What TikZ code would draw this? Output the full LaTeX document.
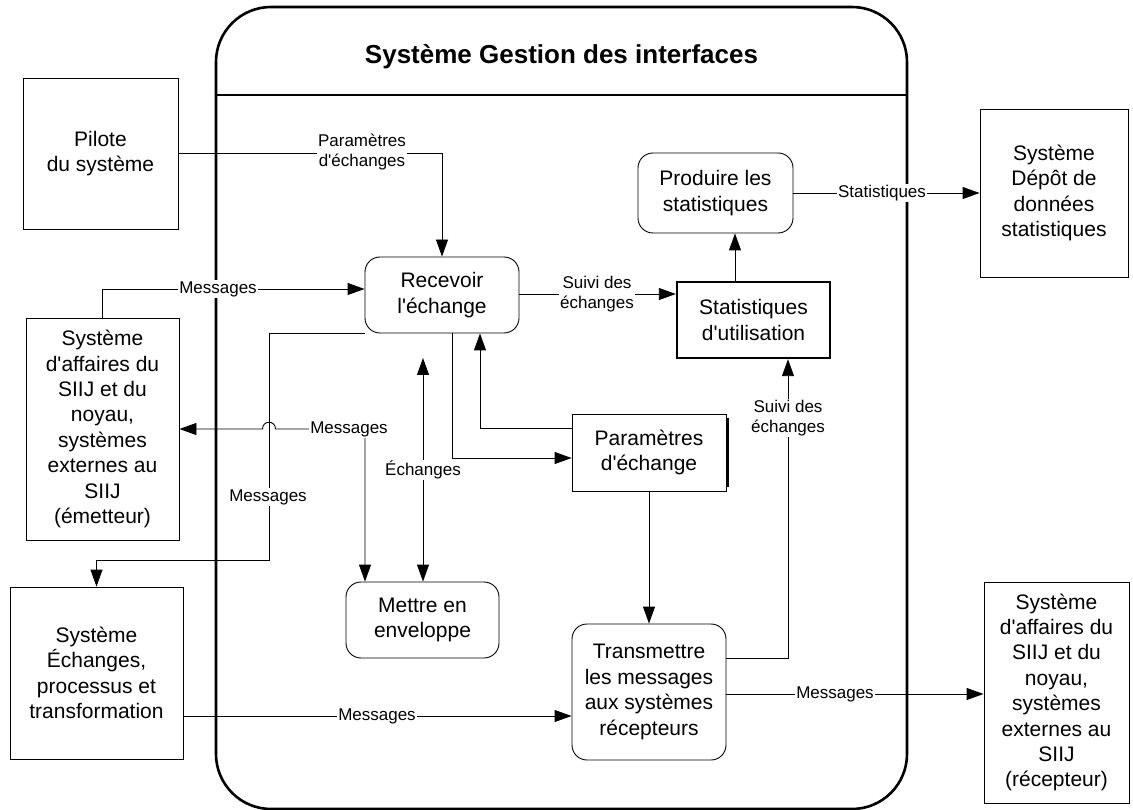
\documentclass[tikz,border=0pt]{standalone}
\usepackage{fontspec}
\setmainfont{Liberation Sans}[Ligatures=TeXOff]
\usetikzlibrary{arrows.meta}
\newcommand\nf{\fontsize{21}{25.4}\selectfont}
\newcommand\lf{\fontsize{17}{20.4}\selectfont}
\begin{document}
\begin{tikzpicture}[x=1pt,y=-1pt,
  box/.style={draw,line width=0.9pt,align=center,inner sep=0pt,font=\nf},
  ext/.style={box},
  proc/.style={box,rounded corners=15pt},
  lbl/.style={fill=white,inner sep=1pt,align=center,font=\lf},
  ln/.style={line width=0.9pt},
  arr/.style={ln,-{Triangle[length=17pt,width=12pt]}},
  dbl/.style={ln,{Triangle[length=17pt,width=12pt]}-{Triangle[length=17pt,width=12pt]}}]
\useasboundingbox (0,0) rectangle (1133,810);
% frame
\node[draw,line width=2.6pt,rounded corners=55pt,minimum width=691pt,minimum height=802pt,inner sep=0pt] (frame) at (561.5,408) {};
\node[font=\fontsize{26}{30}\selectfont\bfseries] (title) at (561.5,57) {Système Gestion des interfaces};
\coordinate (sep) at (0,95);
\draw[line width=2pt] (frame.west |- sep) -- (frame.east |- sep);
% external entities
\node[ext,minimum width=155pt,minimum height=151pt] (pilote) at (100.5,153.5) {Pilote\\du système};
\node[ext,minimum width=153pt,minimum height=222pt] (emit) at (102.5,429) {Système\\d'affaires du\\SIIJ et du\\noyau,\\systèmes\\externes au\\SIIJ\\(émetteur)};
\node[ext,minimum width=173pt,minimum height=172pt] (echp) at (96.5,673) {Système\\Échanges,\\processus et\\transformation};
\node[ext,minimum width=148pt,minimum height=168pt] (depot) at (1054,193) {Système\\Dépôt de\\données\\statistiques};
\node[ext,minimum width=145pt,minimum height=221pt] (recep) at (1056.5,692.5) {Système\\d'affaires du\\SIIJ et du\\noyau,\\systèmes\\externes au\\SIIJ\\(récepteur)};
% processes
\node[proc,minimum width=154pt,minimum height=76pt] (recv) at (442,295) {Recevoir\\l'échange};
\node[proc,minimum width=155pt,minimum height=80pt] (prod) at (715.5,193) {Produire les\\statistiques};
\node[proc,minimum width=153pt,minimum height=76pt] (env) at (422.5,620) {Mettre en\\enveloppe};
\node[proc,minimum width=154pt,minimum height=136pt] (trans) at (649,692) {Transmettre\\les messages\\aux systèmes\\récepteurs};
% stores
\node[box,line width=2.4pt,minimum width=153pt,minimum height=76pt] (stat) at (753.5,320) {Statistiques\\d'utilisation};
\node[box,minimum width=154pt,minimum height=77pt] (param) at (649,452.5) {Paramètres\\d'échange};
\draw[line width=2.4pt] ([xshift=1pt,yshift=-4pt]param.north east) -- ([xshift=1pt,yshift=4pt]param.south east);
% connectors
\draw[arr] (pilote.east) -| (recv.north);
\draw[arr] (emit.north) |- ([yshift=6pt]recv.west);
\draw[arr] ([yshift=1pt]recv.east) -- ([yshift=1pt]recv.east -| stat.west);
\draw[arr] ([xshift=-18.5pt]stat.north) -- ([xshift=-18.5pt]stat.north |- prod.south);
\draw[arr] (prod.east) -- (prod.east -| depot.west);
\draw[arr] ([xshift=10pt]recv.south) |- ([yshift=-5.5pt]param.west);
\draw[arr] ([yshift=24.5pt]param.west) -| ([xshift=38pt]recv.south);
\draw[arr] (param.south) -- (trans.north);
\draw[arr] ([yshift=34pt]trans.east) -| ([xshift=34.5pt]stat.south);
\draw[arr] ([yshift=-2pt]trans.east) -- ([yshift=-2pt]trans.east -| recep.west);
\draw[arr] ([yshift=-43pt]echp.east) -- ([yshift=-43pt]echp.east -| trans.west);
\coordinate (bend) at (269,560);
\draw[arr] (recv.south west) -| (bend) -| (echp.north);
\coordinate (mc) at (365,429);
\coordinate (hopR) at (275.5,429);
\coordinate (hopL) at (262.5,429);
\draw[dbl] ([xshift=-57.5pt]env.north) -- (mc) -- (hopR) .. controls (275.5,420) and (262.5,420) .. (hopL) -- (emit.east);
\coordinate (echtop) at (423,358);
\draw[dbl] (echtop) -- (echtop |- env.north);
% labels
\node[lbl] (l1) at (362,152) {Paramètres\\d'échanges};
\node[lbl] (l2) at (218,289) {Messages};
\node[lbl] (l3) at (597,294) {Suivi des\\échanges};
\node[lbl] (l4) at (882,193) {Statistiques};
\node[lbl] (l5) at (349,429) {Messages};
\node[lbl] (l6) at (423,470) {Échanges};
\node[lbl] (l7) at (268,497) {Messages};
\node[lbl] (l8) at (788,418) {Suivi des\\échanges};
\node[lbl] (l9) at (377,716) {Messages};
\node[lbl] (l10) at (835,694) {Messages};
\end{tikzpicture}
\end{document}
